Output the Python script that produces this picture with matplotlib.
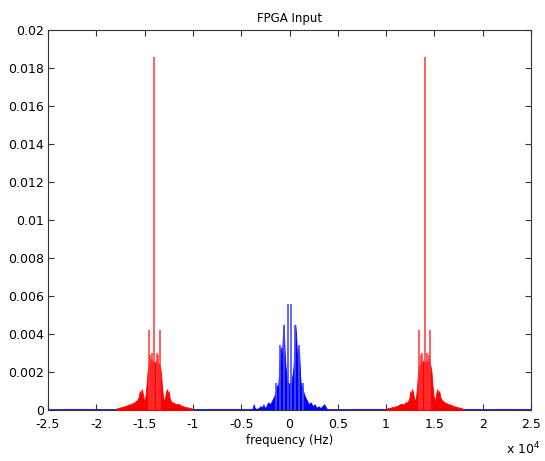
import numpy as np
import matplotlib
matplotlib.use("Agg")
import matplotlib.pyplot as plt
from matplotlib.ticker import FuncFormatter

# center frequencies of the clusters (Hz)
red_centers = [-14000, 14000]
blue_center = 0

# red cluster envelope, offset from carrier (Hz) and magnitude
red_offset = [-4000, -3800, -3600, -3400, -3200, -3000, -2800, -2600, -2400, -2200,
              -2000, -1900, -1800, -1700, -1600, -1500, -1400, -1300, -1200, -1100,
              -1000, -900, -800, -700, -600, -500, -400, -300, -200, -100,
              0, 100, 200, 300, 400, 500, 600, 700, 800, 900,
              1000, 1100, 1200, 1300, 1400, 1500, 1600, 1700, 1800, 2000,
              2200, 2400, 2600, 2800, 3000, 3200, 3400, 3600, 3800, 4000]
red_mag = [0.00005, 0.0001, 0.00012, 0.00015, 0.00018, 0.0002, 0.00025, 0.0003, 0.0003, 0.00038,
           0.0004, 0.0005, 0.00045, 0.0006, 0.0007, 0.0010, 0.0008, 0.0011, 0.0009, 0.0006,
           0.0005, 0.0008, 0.0013, 0.0020, 0.0023, 0.0025, 0.0027, 0.0025, 0.0026, 0.0024,
           0.0026, 0.0024, 0.0026, 0.0024, 0.0025, 0.0024, 0.0023, 0.0019, 0.0012, 0.0007,
           0.0005, 0.0006, 0.0009, 0.0011, 0.0008, 0.0010, 0.0006, 0.0005, 0.0004, 0.0004,
           0.0003, 0.00032, 0.0003, 0.00022, 0.0002, 0.00015, 0.00015, 0.0001, 0.0001, 0.00005]
# red spikes
red_spike_offset = [0, -590, 590, -400, 400, -250, 250]
red_spike_mag = [0.0186, 0.0042, 0.0042, 0.0029, 0.0029, 0.0030, 0.0030]

# blue cluster envelope
blue_offset = [-4000, -3800, -3700, -3600, -3400, -3200, -3000, -2800, -2700, -2600,
               -2400, -2200, -2000, -1800, -1600, -1400, -1300, -1200, -1100, -1000,
               -900, -800, -700, -600, -500, -400, -300, -200, -100, 0,
               100, 200, 300, 400, 500, 600, 700, 800, 900, 1000,
               1100, 1200, 1300, 1400, 1600, 1800, 2000, 2200, 2400, 2600,
               2800, 3000, 3200, 3400, 3600, 3800, 4000]
blue_mag = [0.0, 0.0001, 0.0003, 0.0001, 0.00005, 0.0001, 0.0002, 0.00015, 0.0003, 0.0001,
            0.0002, 0.0004, 0.0003, 0.0005, 0.0007, 0.0010, 0.0013, 0.0011, 0.0018, 0.0030,
            0.0033, 0.0025, 0.0038, 0.0045, 0.0030, 0.0022, 0.0018, 0.0015, 0.0014, 0.0014,
            0.0014, 0.0015, 0.0018, 0.0022, 0.0030, 0.0045, 0.0038, 0.0025, 0.0033, 0.0030,
            0.0018, 0.0011, 0.0013, 0.0010, 0.0007, 0.0005, 0.0003, 0.0004, 0.0002, 0.0003,
            0.0001, 0.0002, 0.0001, 0.0002, 0.0003, 0.0001, 0.0]
# blue spikes
blue_spike_offset = [-170, 170, -600, 600, -950, 950, -1350, 1350]
blue_spike_mag = [0.0056, 0.0056, 0.0045, 0.0045, 0.0034, 0.0034, 0.0014, 0.0014]

xmin, xmax = -25000, 25000

fig = plt.figure(figsize=(5.45, 4.61), dpi=100)
ax = fig.add_axes([48 / 545, 51 / 461, 483 / 545, 380 / 461])
plt.rcParams['font.family'] = ['Liberation Sans', 'DejaVu Sans']
fs = 8.5

# blue baseline and cluster
ax.plot([xmin, xmax], [0, 0], color=(0, 0, 1), lw=1.2, zorder=1)
bx = blue_center + np.array(blue_offset)
ax.fill_between(bx, 0, blue_mag, color=(0, 0, 1), lw=0.6, zorder=2)
ax.vlines(blue_center + np.array(blue_spike_offset), 0, blue_spike_mag,
          color=(0.3, 0.3, 1), lw=1.2, zorder=2)

# red clusters (mirror image on the positive side)
for c in red_centers:
    sgn = 1 if c < 0 else -1
    rx = c + sgn * np.array(red_offset)
    order = np.argsort(rx)
    ax.fill_between(rx[order], 0, np.array(red_mag)[order], color=(1, 0, 0), lw=0.6, zorder=3)
    ax.plot(rx[order], np.zeros(len(rx)), color=(0.5, 0, 0), lw=1.0, zorder=3)
    ax.vlines(c + sgn * np.array(red_spike_offset), 0, red_spike_mag,
              color=(1, 0.2, 0.2), lw=1.1, zorder=3)

ax.set_xlim(xmin, xmax)
ax.set_ylim(0, 0.02)
ax.set_xticks(np.arange(-25000, 25001, 5000))
ax.set_yticks(np.arange(0, 0.02001, 0.002))
ax.xaxis.set_major_formatter(FuncFormatter(lambda v, p: '{:g}'.format(round(v / 1e4, 2))))
ax.yaxis.set_major_formatter(FuncFormatter(lambda v, p: '{:g}'.format(round(v, 4))))
ax.tick_params(direction='in', top=True, right=True, length=4, width=0.8,
               labelsize=9, color='#333333', pad=3)
ax.tick_params(axis='x', pad=6)
for lab in ax.get_xticklabels() + ax.get_yticklabels():
    lab.set_family('DejaVu Sans')
for s in ax.spines.values():
    s.set_color('#333333')
    s.set_linewidth(0.8)

ax.set_title("FPGA Input", fontsize=fs, pad=6)
ax.set_xlabel("frequency (Hz)", fontsize=fs, labelpad=2)
ax.text(1.02, -0.08, r"x 10$^{4}$", transform=ax.transAxes, ha='right', va='top',
        fontsize=9, family='DejaVu Sans')

fig.savefig("out.png", dpi=100, facecolor='white')
